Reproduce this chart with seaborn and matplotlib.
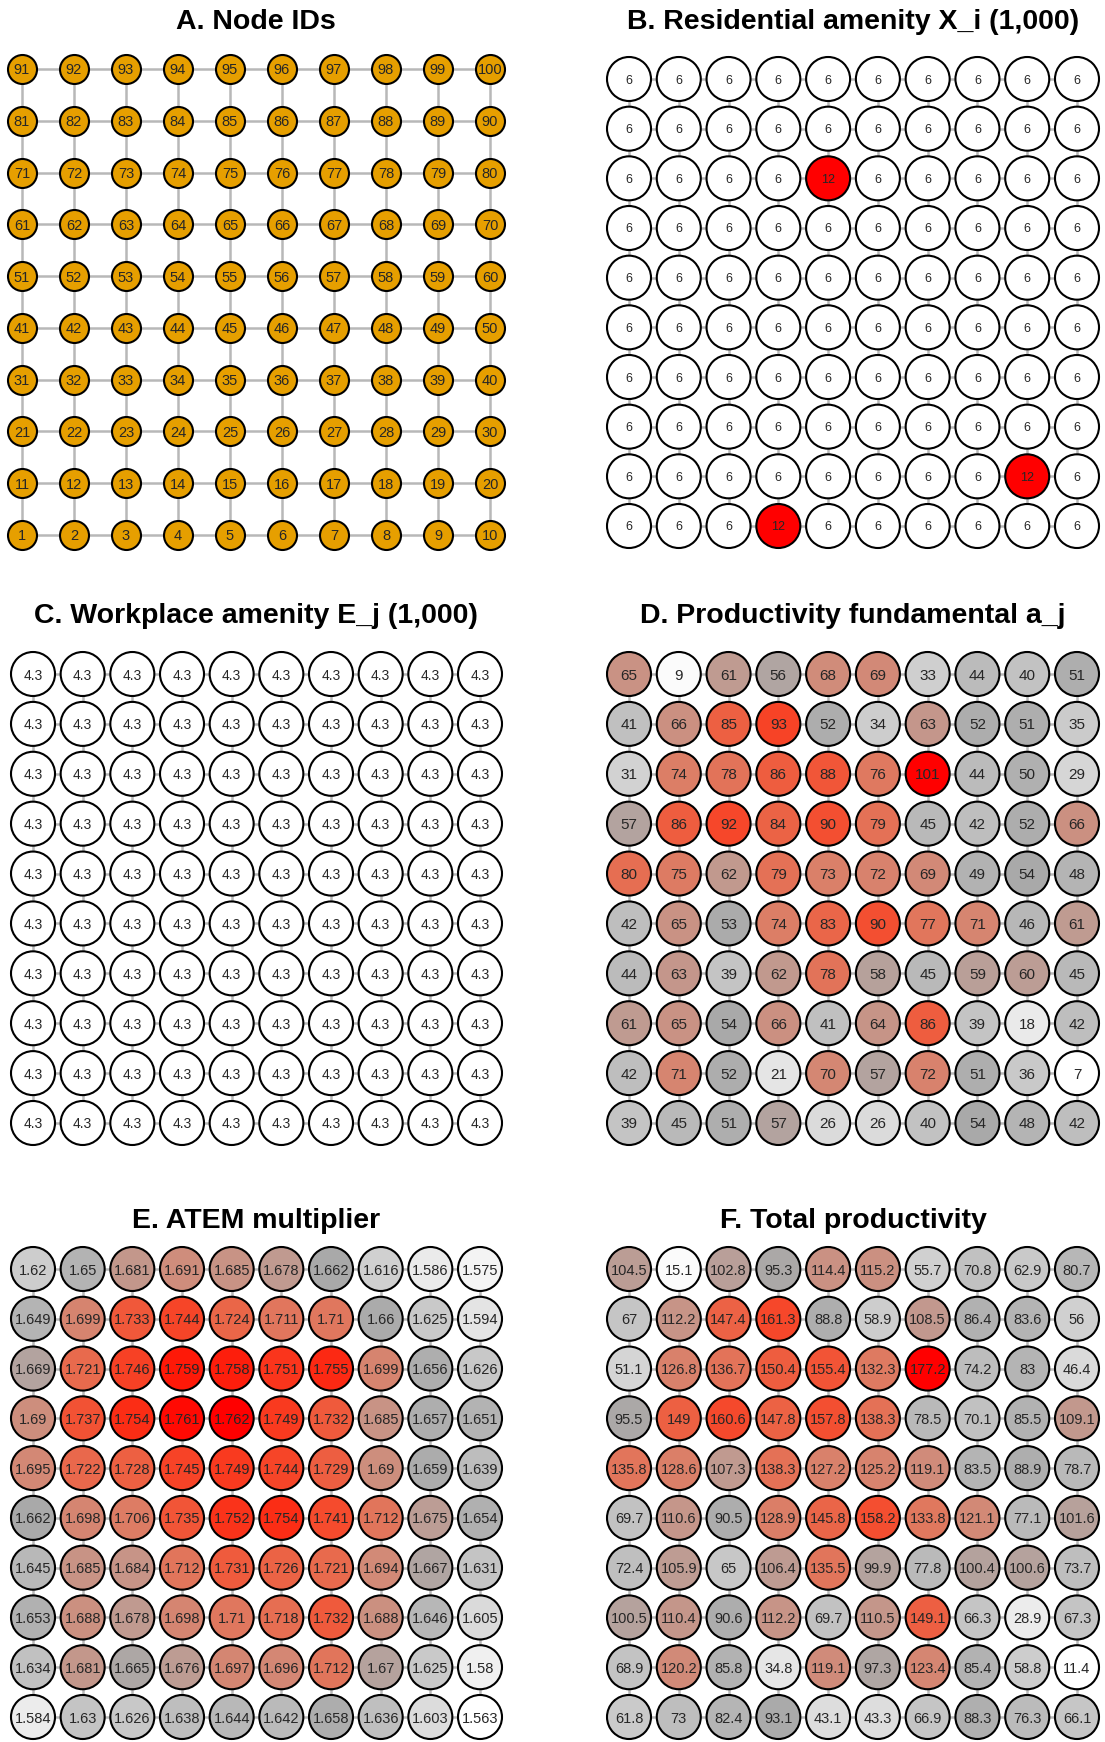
import numpy as np
import pandas as pd
import matplotlib
matplotlib.use("Agg")
import matplotlib.pyplot as plt
import seaborn as sns

sns.set_theme(style="white")
plt.rcParams["font.family"] = ["Liberation Sans", "DejaVu Sans"]

# ---------------------------------------------------------------------------
# Data: 10 x 10 grid, rows listed top (nodes 91-100) to bottom (nodes 1-10)
# ---------------------------------------------------------------------------
GRID = 10

residential_amenity = [
    [6, 6, 6, 6, 6, 6, 6, 6, 6, 6],
    [6, 6, 6, 6, 6, 6, 6, 6, 6, 6],
    [6, 6, 6, 6, 12, 6, 6, 6, 6, 6],
    [6, 6, 6, 6, 6, 6, 6, 6, 6, 6],
    [6, 6, 6, 6, 6, 6, 6, 6, 6, 6],
    [6, 6, 6, 6, 6, 6, 6, 6, 6, 6],
    [6, 6, 6, 6, 6, 6, 6, 6, 6, 6],
    [6, 6, 6, 6, 6, 6, 6, 6, 6, 6],
    [6, 6, 6, 6, 6, 6, 6, 6, 12, 6],
    [6, 6, 6, 12, 6, 6, 6, 6, 6, 6],
]

workplace_amenity = [[4.3] * 10 for _ in range(10)]

productivity_fundamental = [
    [65, 9, 61, 56, 68, 69, 33, 44, 40, 51],
    [41, 66, 85, 93, 52, 34, 63, 52, 51, 35],
    [31, 74, 78, 86, 88, 76, 101, 44, 50, 29],
    [57, 86, 92, 84, 90, 79, 45, 42, 52, 66],
    [80, 75, 62, 79, 73, 72, 69, 49, 54, 48],
    [42, 65, 53, 74, 83, 90, 77, 71, 46, 61],
    [44, 63, 39, 62, 78, 58, 45, 59, 60, 45],
    [61, 65, 54, 66, 41, 64, 86, 39, 18, 42],
    [42, 71, 52, 21, 70, 57, 72, 51, 36, 7],
    [39, 45, 51, 57, 26, 26, 40, 54, 48, 42],
]

atem_multiplier = [
    [1.62, 1.65, 1.681, 1.691, 1.685, 1.678, 1.662, 1.616, 1.586, 1.575],
    [1.649, 1.699, 1.733, 1.744, 1.724, 1.711, 1.71, 1.66, 1.625, 1.594],
    [1.669, 1.721, 1.746, 1.759, 1.758, 1.751, 1.755, 1.699, 1.656, 1.626],
    [1.69, 1.737, 1.754, 1.761, 1.762, 1.749, 1.732, 1.685, 1.657, 1.651],
    [1.695, 1.722, 1.728, 1.745, 1.749, 1.744, 1.729, 1.69, 1.659, 1.639],
    [1.662, 1.698, 1.706, 1.735, 1.752, 1.754, 1.741, 1.712, 1.675, 1.654],
    [1.645, 1.685, 1.684, 1.712, 1.731, 1.726, 1.721, 1.694, 1.667, 1.631],
    [1.653, 1.688, 1.678, 1.698, 1.71, 1.718, 1.732, 1.688, 1.646, 1.605],
    [1.634, 1.681, 1.665, 1.676, 1.697, 1.696, 1.712, 1.67, 1.625, 1.58],
    [1.584, 1.63, 1.626, 1.638, 1.644, 1.642, 1.658, 1.636, 1.603, 1.563],
]

total_productivity = [
    [104.5, 15.1, 102.8, 95.3, 114.4, 115.2, 55.7, 70.8, 62.9, 80.7],
    [67, 112.2, 147.4, 161.3, 88.8, 58.9, 108.5, 86.4, 83.6, 56],
    [51.1, 126.8, 136.7, 150.4, 155.4, 132.3, 177.2, 74.2, 83, 46.4],
    [95.5, 149, 160.6, 147.8, 157.8, 138.3, 78.5, 70.1, 85.5, 109.1],
    [135.8, 128.6, 107.3, 138.3, 127.2, 125.2, 119.1, 83.5, 88.9, 78.7],
    [69.7, 110.6, 90.5, 128.9, 145.8, 158.2, 133.8, 121.1, 77.1, 101.6],
    [72.4, 105.9, 65, 106.4, 135.5, 99.9, 77.8, 100.4, 100.6, 73.7],
    [100.5, 110.4, 90.6, 112.2, 69.7, 110.5, 149.1, 66.3, 28.9, 67.3],
    [68.9, 120.2, 85.8, 34.8, 119.1, 97.3, 123.4, 85.4, 58.8, 11.4],
    [61.8, 73, 82.4, 93.1, 43.1, 43.3, 66.9, 88.3, 76.3, 66.1],
]

titles = [
    "A. Node IDs",
    "B. Residential amenity X_i (1,000)",
    "C. Workplace amenity E_j (1,000)",
    "D. Productivity fundamental a_j",
    "E. ATEM multiplier",
    "F. Total productivity",
]

# ---------------------------------------------------------------------------
# White -> dark grey -> red ramp, interpolated in CIE Lab
# ---------------------------------------------------------------------------
_M = np.array([[0.4124564, 0.3575761, 0.1804375],
               [0.2126729, 0.7151522, 0.0721750],
               [0.0193339, 0.1191920, 0.9503041]])
_WHITE_XYZ = _M @ np.ones(3)
_D = 6 / 29


def _to_linear(c):
    c = np.asarray(c, float)
    return np.where(c <= 0.04045, c / 12.92, ((c + 0.055) / 1.055) ** 2.4)


def _to_srgb(c):
    c = np.clip(c, 0, 1)
    return np.where(c <= 0.0031308, 12.92 * c, 1.055 * c ** (1 / 2.4) - 0.055)


def _f(t):
    return np.where(t > _D ** 3, np.cbrt(t), t / (3 * _D * _D) + 4 / 29)


def _finv(t):
    return np.where(t > _D, t ** 3, 3 * _D * _D * (t - 4 / 29))


def rgb_to_lab(rgb):
    xyz = (_M @ _to_linear(rgb)) / _WHITE_XYZ
    fx, fy, fz = _f(xyz)
    return np.array([116 * fy - 16, 500 * (fx - fy), 200 * (fy - fz)])


def lab_to_rgb(lab):
    L, a, b = lab
    fy = (L + 16) / 116
    fx = fy + a / 500
    fz = fy - b / 200
    xyz = _finv(np.array([fx, fy, fz])) * _WHITE_XYZ
    return tuple(float(v) for v in _to_srgb(np.linalg.solve(_M, xyz)))


RAMP_LAB = [rgb_to_lab(matplotlib.colors.to_rgb(c))
            for c in ("#FFFFFF", "#A9A9A9", "#FF0000")]


def ramp_color(t):
    t = float(np.clip(t, 0, 1))
    seg = (len(RAMP_LAB) - 1) * t
    i = min(int(seg), len(RAMP_LAB) - 2)
    u = seg - i
    return lab_to_rgb((1 - u) * RAMP_LAB[i] + u * RAMP_LAB[i + 1])


def value_palette(values):
    vals = np.asarray(values, float)
    lo, hi = vals.min(), vals.max()
    pal = {}
    for v in np.unique(vals):
        t = (v - lo) / (hi - lo) if hi > lo else 0.0
        pal[float(v)] = ramp_color(t)
    return pal


def grid_frame(rows):
    recs = []
    for r, row in enumerate(rows):
        for c, v in enumerate(row):
            recs.append({"x": c, "y": GRID - 1 - r, "value": float(v),
                         "label": f"{v:g}"})
    return pd.DataFrame(recs)


node_rows = [[(GRID - 1 - r) * GRID + c + 1 for c in range(GRID)]
             for r in range(GRID)]

# ---------------------------------------------------------------------------
# Figure
# ---------------------------------------------------------------------------
W, H, DPI = 1105, 1742, 100
fig = plt.figure(figsize=(W / DPI, H / DPI), dpi=DPI, facecolor="white")

# (x first col, x last col, y top row, y bottom row, radius px, label pt)
panels = [
    (22, 490, 69, 535, 14.5, 10.5),
    (629, 1077, 79, 526, 22, 9.0),
    (33, 480, 674, 1123, 22, 10.0),
    (629, 1077, 674, 1123, 22, 11.0),
    (33, 480, 1269, 1717, 22, 10.5),
    (629, 1077, 1269, 1717, 22, 10.5),
]
title_pos = [(256, 22), (853, 22), (256, 616), (853, 616), (256, 1221), (853, 1221)]
datasets = [node_rows, residential_amenity, workplace_amenity,
            productivity_fundamental, atem_multiplier, total_productivity]

EDGE_GREY = "#B8B8B8"
px_to_pt = 72 / DPI

for k, (spec, rows) in enumerate(zip(panels, datasets)):
    x0, x1, y0, y1, rad, lab_pt = spec
    ax = fig.add_axes([x0 / W, 1 - y1 / H, (x1 - x0) / W, (y1 - y0) / H])
    ax.set_xlim(0, GRID - 1)
    ax.set_ylim(0, GRID - 1)
    ax.axis("off")

    # lattice edges between neighbouring nodes
    for i in range(GRID):
        ax.plot([0, GRID - 1], [i, i], color=EDGE_GREY, lw=1.8,
                zorder=1, clip_on=False, solid_capstyle="butt")
        ax.plot([i, i], [0, GRID - 1], color=EDGE_GREY, lw=1.8,
                zorder=1, clip_on=False, solid_capstyle="butt")

    df = grid_frame(rows)
    size = (2 * rad * px_to_pt) ** 2
    if k == 0:
        sns.scatterplot(data=df, x="x", y="y", color="#E69F00", s=size,
                        edgecolor="black", linewidth=1.5, legend=False,
                        ax=ax, zorder=2, clip_on=False)
    else:
        sns.scatterplot(data=df, x="x", y="y", hue="value",
                        palette=value_palette(df["value"]), s=size,
                        edgecolor="black", linewidth=1.5, legend=False,
                        ax=ax, zorder=2, clip_on=False)
    ax.set_xlabel("")
    ax.set_ylabel("")

    for _, rec in df.iterrows():
        ax.text(rec["x"], rec["y"], rec["label"], ha="center",
                va="center_baseline", fontsize=lab_pt, color="#262626",
                zorder=3)

    tx, ty = title_pos[k]
    fig.text(tx / W, 1 - ty / H, titles[k], ha="center", va="center",
             fontsize=20.5, fontweight="bold", color="black")

fig.savefig("out.png", dpi=DPI, facecolor="white")
